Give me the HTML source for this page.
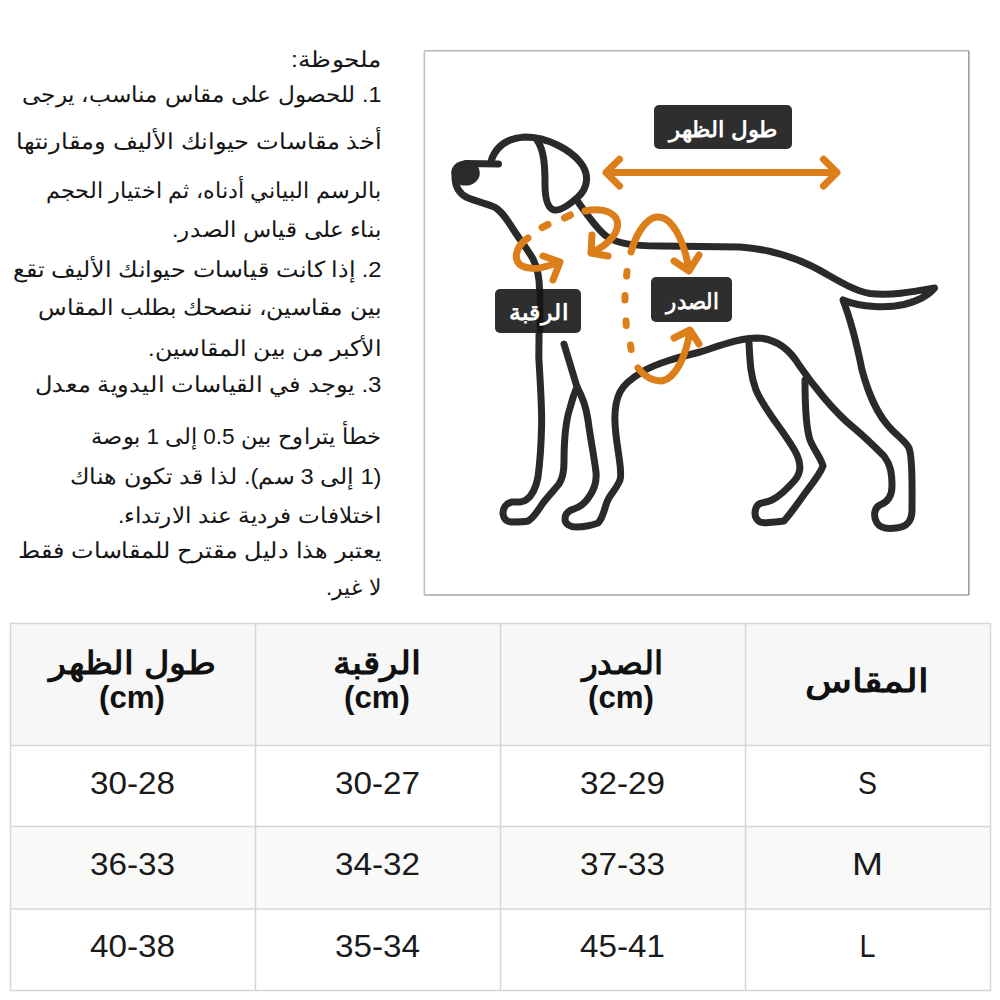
<!DOCTYPE html>
<html lang="ar">
<head>
<meta charset="utf-8">
<title>Size guide</title>
<style>
html,body{margin:0;padding:0;background:#fff;}
body{width:1000px;height:1000px;overflow:hidden;position:relative;font-family:"Liberation Sans",sans-serif;}
svg{position:absolute;left:0;top:0;}
.t{font-family:"Liberation Sans",sans-serif;font-size:22px;fill:#161616;}
.lb{font-family:"Liberation Sans",sans-serif;font-size:22px;font-weight:bold;fill:#fff;}
.th{font-family:"Liberation Sans",sans-serif;font-size:32px;font-weight:bold;fill:#111;}
.cm{font-family:"Liberation Sans",sans-serif;font-size:32px;font-weight:bold;fill:#111;}
.td{font-family:"Liberation Sans",sans-serif;font-size:31.5px;fill:#1a1a1a;}
</style>
</head>
<body>
<svg width="1000" height="1000" viewBox="0 0 1000 1000">
  <!-- notes text -->
  <g class="t" direction="rtl" text-anchor="start">
    <text x="381.5" y="67" textLength="90.5" lengthAdjust="spacingAndGlyphs">ملحوظة:</text>
    <text x="381.5" y="102" textLength="359.5" lengthAdjust="spacingAndGlyphs">1. للحصول على مقاس مناسب، يرجى</text>
    <text x="381.5" y="149" textLength="365.5" lengthAdjust="spacingAndGlyphs">أخذ مقاسات حيوانك الأليف ومقارنتها</text>
    <text x="381.5" y="198" textLength="335.5" lengthAdjust="spacingAndGlyphs">بالرسم البياني أدناه، ثم اختيار الحجم</text>
    <text x="381.5" y="237" textLength="209.5" lengthAdjust="spacingAndGlyphs">بناء على قياس الصدر.</text>
    <text x="381.5" y="277" textLength="368.5" lengthAdjust="spacingAndGlyphs">2. إذا كانت قياسات حيوانك الأليف تقع</text>
    <text x="381.5" y="315" textLength="343.5" lengthAdjust="spacingAndGlyphs">بين مقاسين، ننصحك بطلب المقاس</text>
    <text x="381.5" y="356" textLength="233.5" lengthAdjust="spacingAndGlyphs">الأكبر من بين المقاسين.</text>
    <text x="381.5" y="392" textLength="346.5" lengthAdjust="spacingAndGlyphs">3. يوجد في القياسات اليدوية معدل</text>
    <text x="381.5" y="444" textLength="290.5" lengthAdjust="spacingAndGlyphs">خطأ يتراوح بين 0.5 إلى 1 بوصة</text>
    <text x="381.5" y="484" textLength="311.5" lengthAdjust="spacingAndGlyphs">(1 إلى 3 سم). لذا قد تكون هناك</text>
    <text x="381.5" y="523" textLength="263.5" lengthAdjust="spacingAndGlyphs">اختلافات فردية عند الارتداء.</text>
    <text x="381.5" y="558" textLength="363.5" lengthAdjust="spacingAndGlyphs">يعتبر هذا دليل مقترح للمقاسات فقط</text>
    <text x="381.5" y="595" textLength="55.5" lengthAdjust="spacingAndGlyphs">لا غير.</text>
  </g>

  <!-- frame -->
  <g stroke-width="1.6" fill="none">
    <line x1="424.4" y1="50.8" x2="968.8" y2="50.8" stroke="#b4b4b4"/>
    <line x1="424.4" y1="50.8" x2="424.4" y2="595" stroke="#c2c2c2"/>
    <line x1="968.8" y1="50.8" x2="968.8" y2="595" stroke="#9c9c9c"/>
    <line x1="424.4" y1="595" x2="968.8" y2="595" stroke="#a4a4a4"/>
  </g>

  <!-- dog outline -->
  <g fill="none" stroke="#2a2a2a" stroke-width="7" stroke-linecap="round" stroke-linejoin="round">
    <!-- muzzle top -->
    <path d="M466 163.5 L498.5 164"/>
    <!-- head top + ear loop -->
    <path d="M491 161 C496 146 508 138 525 137 C548 137 570 150 580 162 C590 174 588 188 578 197 C568 206 560 211 554 210 C547 208 545 198 545 184 C545 165 544 150 537 140"/>
    <!-- neck back, back, tail, rear leg, belly, front leg 2 -->
    <path d="M576 199 C584 210 594 226 606 236 C616 243 630 246 660 246 L740 247 C770 249 800 258 828 275 C842 283 856 291 870 293.5 C890 296 912 292 934.5 288 C928 296 918 301 904 304.5 C888 308 862 308 843 300 C850 318 856 340 862 370 C868 392 876 414 892 430 C900 438 906 442 909 448 C913 458 912 490 912 510 C912 522 906 527 896 528 C888 529 880 528 877 523 C873 516 874 508 880 505 C888 502 892 496 892 486 C892 472 890 464 884 456 C874 446 866 438 854 428 C834 412 812 384 799 365 C790 350 778 339 758 338 C740 338 722 345 700 352 C680 357 656 363 642 372 C632 378 624 384 620 392 C612 408 615 430 618 450 C620 464 622 474 620 480 C616 490 610 494 607 502 C604 510 603 518 598 523 C590 526 582 527 576 527 C570 527 565 524 565 519 C565 513 570 510 574 509 C580 507 585 503 589 497 C594 490 597 482 596 472 C594 456 590 436 588 420 C586 406 582 396 577 387 L564 344"/>
    <!-- neck front + front leg 1 -->
    <path d="M455 178 C455.5 187 460 194 467 197.5 C475 201 484 203 493 206.5 C500 209 506 218 513 229 C520 240 528 250 533 259 C537 267 539.5 276 539.5 290 L538.8 357 C540 380 542 405 541.6 425 C541.2 445 540 462 538 477 C536 488 532 496 526 500 C522 503 517 502 512 502 C506 503 503 508 503 514 C504 520 508 522 512 522 C518 522 524 522 528 521 C534 518 538 510 543 503 C550 494 556 488 559 484 C563 478 564 472 564 462 C564 440 566 420 570 408 C572 400 574 394 577 387"/>
    <!-- hind leg inner -->
    <path d="M749 343 C750 360 750 374 756 390 C764 410 788 436 797 455 C802 466 800 474 795 480 C788 488 780 496 772 500 C766 503 762 502 759 504 C754 508 753 518 760 522 C766 524 776 522 784 521 C792 512 800 500 806 492 C812 484 820 474 823 466 C821 458 814 450 810 440 C806 428 805 410 805 380"/>
  </g>
  <!-- nose -->
  <ellipse cx="465.5" cy="173" rx="14.3" ry="12.6" fill="#2a2a2a"/>

  <!-- orange annotations -->
  <g fill="none" stroke="#dc7f1b" stroke-width="7" stroke-linecap="round" stroke-linejoin="round">
    <!-- back length arrow -->
    <path d="M606 172.6 L836.5 172.6 M619.5 159.2 L606 172.6 L619.5 186 M823.5 159.2 L837 172.6 L823.5 186" stroke-width="7"/>
    <!-- neck loop -->
    <path d="M528 238 C516 246 512 260 522 266 C534 272 548 266 560 262 M543 256 L560 262 L553 280"/>
    <path d="M542 227.5 L548 224.5 M564.5 218 L570.5 215"/>
    <!-- right neck loop -->
    <path d="M585 211 C598 208 610 210 616 218 C622 230 610 244 591 253 M592 235 L591 253 L608 256"/>
    <!-- chest top arc -->
    <path d="M631 252 C636 234 646 218 657 217 C672 216 684 240 689 270 M674 261 L689 271 L699 255"/>
    <!-- chest dashes -->
    <path d="M627 271.5 L626.6 276 M625 295.5 L625 300 M626 321 L626.3 325.5 M630.5 345 L631.2 349.5"/>
    <!-- chest bottom arc -->
    <path d="M638 368 C644 376 652 381 662 381 C676 378 686 356 690 331 M674 338 L690 330 L699 344"/>
  </g>

  <!-- labels -->
  <rect x="654" y="105" width="138" height="44" rx="5" fill="#2e2e2e"/>
  <rect x="495" y="289" width="86" height="44" rx="5" fill="#2e2e2e"/>
  <rect x="651" y="277" width="81" height="45" rx="5" fill="#2e2e2e"/>
  <line x1="540" y1="289" x2="540" y2="333" stroke="#151515" stroke-width="6.5"/>
  <g class="lb" direction="rtl" text-anchor="start">
    <text x="778" y="137" textLength="109" lengthAdjust="spacingAndGlyphs">طول الظهر</text>
    <text x="568" y="320" textLength="59" lengthAdjust="spacingAndGlyphs">الرقبة</text>
    <text x="719" y="309" textLength="53" lengthAdjust="spacingAndGlyphs">الصدر</text>
  </g>

  <!-- table -->
  <rect x="10.5" y="623.5" width="979.5" height="122" fill="#f6f7f6"/>
  <rect x="10.5" y="826.5" width="979.5" height="82.5" fill="#f9f9f8"/>
  <g stroke="#d6d6d6" stroke-width="1.5" fill="none">
    <rect x="10.5" y="623.5" width="980" height="367"/>
    <path d="M255.5 623.5 V990.5 M500.5 623.5 V990.5 M745.5 623.5 V990.5 M10.5 745.5 H990.5 M10.5 826.5 H990.5 M10.5 909 H990.5"/>
  </g>
  <g class="th" direction="rtl" text-anchor="start">
    <text x="215" y="674" textLength="166" lengthAdjust="spacingAndGlyphs">طول الظهر</text>
    <text x="421.5" y="674" textLength="89" lengthAdjust="spacingAndGlyphs">الرقبة</text>
    <text x="663" y="674" textLength="81" lengthAdjust="spacingAndGlyphs">الصدر</text>
    <text x="929" y="691.5" textLength="124" lengthAdjust="spacingAndGlyphs">المقاس</text>
  </g>
  <g class="cm" text-anchor="middle">
    <text x="132" y="708" textLength="66" lengthAdjust="spacingAndGlyphs">(cm)</text>
    <text x="377" y="708" textLength="66" lengthAdjust="spacingAndGlyphs">(cm)</text>
    <text x="621" y="708" textLength="66" lengthAdjust="spacingAndGlyphs">(cm)</text>
  </g>
  <g class="td" text-anchor="middle">
    <text x="132.5" y="794.2" textLength="85" lengthAdjust="spacingAndGlyphs">30-28</text>
    <text x="377.5" y="794.2" textLength="85" lengthAdjust="spacingAndGlyphs">30-27</text>
    <text x="622.5" y="794.2" textLength="85" lengthAdjust="spacingAndGlyphs">32-29</text>
    <text x="867.5" y="794.2" textLength="19" lengthAdjust="spacingAndGlyphs">S</text>
    <text x="132.5" y="875.2" textLength="85" lengthAdjust="spacingAndGlyphs">36-33</text>
    <text x="377.5" y="875.2" textLength="85" lengthAdjust="spacingAndGlyphs">34-32</text>
    <text x="622.5" y="875.2" textLength="85" lengthAdjust="spacingAndGlyphs">37-33</text>
    <text x="867.5" y="875.2" textLength="31" lengthAdjust="spacingAndGlyphs">M</text>
    <text x="132.5" y="956.5" textLength="85" lengthAdjust="spacingAndGlyphs">40-38</text>
    <text x="377.5" y="956.5" textLength="85" lengthAdjust="spacingAndGlyphs">35-34</text>
    <text x="622.5" y="956.5" textLength="85" lengthAdjust="spacingAndGlyphs">45-41</text>
    <text x="867.5" y="956.5" textLength="16" lengthAdjust="spacingAndGlyphs">L</text>
  </g>
</svg>
</body>
</html>
